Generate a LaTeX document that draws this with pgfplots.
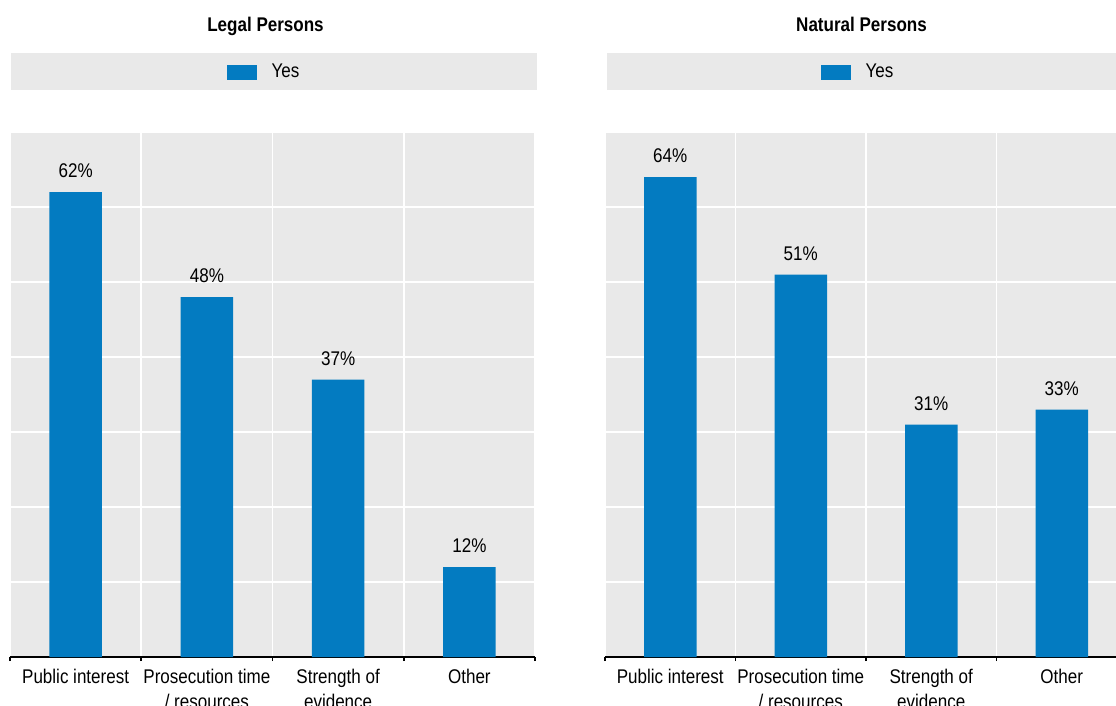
\documentclass[border=0pt]{standalone}
\usepackage{pgfplots}
\pgfplotsset{compat=1.18}
\usepackage{fontspec}
\setmainfont{Liberation Sans}[FakeStretch=0.86]
\definecolor{barblue}{HTML}{037BC1}
\definecolor{panelgrey}{HTML}{E9E9E9}
\newcommand\lbl{\fontsize{9.9pt}{12.5pt}\selectfont}

\pgfplotsset{
  panel/.style={
    scale only axis,
    width=#1, height=262.5pt,
    anchor=south west,
    xmin=-0.5, xmax=3.5, ymin=0, ymax=70,
    axis background/.style={fill=panelgrey},
    xtick={0,1,2,3},
    xticklabels={{Public interest},{Prosecution time\\/ resources},{Strength of\\evidence},{Other}},
    minor xtick={-0.5,0.5,1.5,2.5,3.5},
    ytick={0,10,...,70},
    yticklabels={},
    major tick length=0pt,
    minor tick length=2pt,
    tick align=inside,
    tick style={black, line width=0.75pt},
    xmajorgrids=false, xminorgrids=true, ymajorgrids=true,
    major grid style={white, line width=0.75pt},
    minor grid style={white, line width=0.75pt},
    axis x line*=bottom,
    axis y line*=left,
    y axis line style={draw=none},
    x axis line style={-, black, line width=0.75pt},
    xticklabel style={font=\lbl, align=center, inner sep=0pt, anchor=north, yshift=-6pt},
    ybar, bar width=26.25pt, bar shift=0pt,
    /pgf/number format/assume math mode=true,
    nodes near coords={\pgfmathprintnumber{\pgfplotspointmeta}\%},
    every node near coord/.append style={font=\lbl, anchor=base, inner sep=0pt, yshift=7.25pt},
    title style={font=\lbl\bfseries, anchor=base, inner sep=0pt},
    legend style={draw=none, fill=none, anchor=center, inner sep=0pt,
      font=\lbl, column sep=7.5pt, nodes={inner sep=0pt}},
  },
  yesbar/.style={fill=barblue, draw=none,
    legend image code/.code={\fill[barblue] (0pt,-3.875pt) rectangle (15pt,3.875pt);}},
}

\begin{document}
\lbl
\begin{tikzpicture}
  % legend bands behind each panel's legend
  \fill[panelgrey] (5.5pt,-26.5pt) rectangle (268.5pt,-45pt);
  \fill[panelgrey] (303.5pt,-26.5pt) rectangle (570pt,-45pt);

  \begin{axis}[panel=262.5pt, at={(5pt,-328.5pt)},
      title={Legal Persons}, title style={at={(0.4867,1.1695)}},
      legend style={at={(0.4819,1.1133)}}]
    \addplot[yesbar] coordinates {(0,62) (1,48) (2,37) (3,12)};
    \addlegendentry{Yes}
  \end{axis}

  \begin{axis}[panel=261pt, at={(302.5pt,-328.5pt)},
      title={Natural Persons}, title style={at={(0.4914,1.1695)}},
      legend style={at={(0.4828,1.1133)}}]
    \addplot[yesbar] coordinates {(0,64) (1,51) (2,31) (3,33)};
    \addlegendentry{Yes}
  \end{axis}

  \pgfresetboundingbox
  \useasboundingbox (0,0) rectangle (558pt,-353pt);
\end{tikzpicture}
\end{document}
